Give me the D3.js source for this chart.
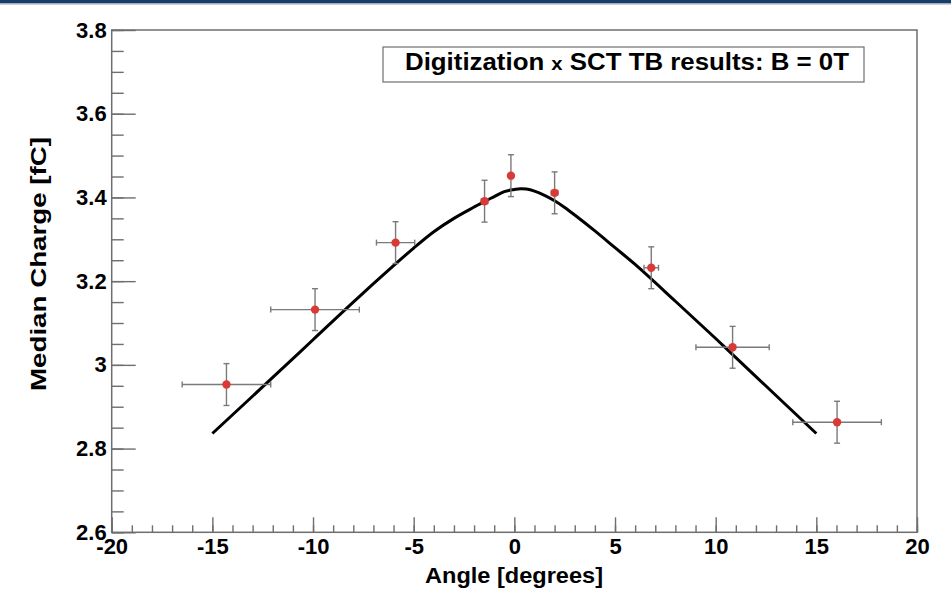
<!DOCTYPE html>
<html><head><meta charset="utf-8">
<script src="https://cdn.jsdelivr.net/npm/d3@7"></script>
<style>body{margin:0;background:#fff;} svg{display:block;font-family:"Liberation Sans",Arial,sans-serif;}</style>
</head><body>
<svg id="c" width="951" height="589"></svg>
<script>
// Data points
const angles = [-14.3, -9.9, -5.9, -1.48, -0.17, 2.0, 6.8, 10.84, 16.03];
const charges = [2.953, 3.132, 3.292, 3.391, 3.452, 3.411, 3.232, 3.042, 2.863];
const angleErr = [2.2, 2.2, 0.95, 0.16, 0.05, 0.16, 0.36, 1.82, 2.2];
const chargeErr = [0.05, 0.05, 0.05, 0.05, 0.05, 0.05, 0.05, 0.05, 0.05];
// Fit curve
const fitX = [-15, -12, -10, -8, -6, -5, -4, -3, -2, -1.5, -1, -0.5, 0, 0.3, 0.6, 1, 1.5, 2, 2.5, 3, 4, 5, 6, 8, 10, 12, 15];
const fitY = [2.836, 2.970, 3.060, 3.150, 3.237, 3.279, 3.318, 3.350, 3.377, 3.390, 3.402, 3.414, 3.419, 3.421, 3.420, 3.415, 3.405, 3.392, 3.376, 3.358, 3.320, 3.280, 3.240, 3.152, 3.063, 2.972, 2.836];
// Ticks
const xMajor = [-20, -15, -10, -5, 0, 5, 10, 15, 20];
const yMajor = [2.6, 2.8, 3.0, 3.2, 3.4, 3.6, 3.8];
const yLabels = ["2.6", "2.8", "3", "3.2", "3.4", "3.6", "3.8"];
const xMinor = d3.range(-20, 20.01, 1);
const yMinor = d3.range(2.6, 3.801, 0.05);
const titleText = ["Digitization ", "x", " SCT TB results: B = 0T"];

const svg = d3.select("#c");
const L = 111.7, R = 917, T = 30, B = 532.3;
const x = d3.scaleLinear().domain([-20, 20]).range([L, R]);
const y = d3.scaleLinear().domain([2.6, 3.8]).range([B, T]);
const frameCol = "#6e6e6e";

// top banner
svg.append("rect").attr("x", 0).attr("y", 0).attr("width", 951).attr("height", 3.5).attr("fill", "#173d6b");
svg.append("rect").attr("x", 0).attr("y", 3.5).attr("width", 951).attr("height", 1.2).attr("fill", "#b8bcc2");

// frame
svg.append("rect").attr("x", L).attr("y", T).attr("width", R - L).attr("height", B - T)
  .attr("fill", "none").attr("stroke", frameCol).attr("stroke-width", 1.5);

const gxMin = svg.append("g").attr("transform", `translate(0,${B})`)
  .call(d3.axisTop(x).tickValues(xMinor).tickSize(7).tickFormat(""));
const gxMaj = svg.append("g").attr("transform", `translate(0,${B})`)
  .call(d3.axisTop(x).tickValues(xMajor).tickSize(15).tickFormat(""));
const gxLab = svg.append("g").attr("transform", `translate(0,${B})`)
  .call(d3.axisBottom(x).tickValues(xMajor).tickSize(0).tickPadding(6).tickFormat(d => String(d)));
const gyMin = svg.append("g").attr("transform", `translate(${L},0)`)
  .call(d3.axisRight(y).tickValues(yMinor).tickSize(12).tickFormat(""));
const gyMaj = svg.append("g").attr("transform", `translate(${L},0)`)
  .call(d3.axisRight(y).tickValues(yMajor).tickSize(24).tickFormat(""));
const gyLab = svg.append("g").attr("transform", `translate(${L},0)`)
  .call(d3.axisLeft(y).tickValues(yMajor).tickSize(0).tickPadding(5).tickFormat((d, i) => yLabels[i]));
[gxMin, gxMaj, gxLab, gyMin, gyMaj, gyLab].forEach(g => {
  g.select(".domain").remove();
  g.selectAll("line").attr("stroke", frameCol).attr("stroke-width", 1.4);
  g.selectAll("text").attr("fill", "#000").attr("font-size", 22).attr("font-weight", "bold")
    .attr("font-family", "'Liberation Sans', Arial, sans-serif");
});
gxLab.selectAll("text").attr("dy", "0.72em");

// axis titles
svg.append("text").attr("x", 514).attr("y", 583).attr("text-anchor", "middle")
  .attr("font-size", 22).attr("font-weight", "bold")
  .attr("textLength", 178).attr("lengthAdjust", "spacingAndGlyphs").text("Angle [degrees]");
svg.append("text").attr("transform", `translate(46,264) rotate(-90)`).attr("text-anchor", "middle")
  .attr("font-size", 22).attr("font-weight", "bold")
  .attr("textLength", 254).attr("lengthAdjust", "spacingAndGlyphs").text("Median Charge [fC]");

// title box
svg.append("rect").attr("x", 383).attr("y", 47).attr("width", 481).attr("height", 35)
  .attr("fill", "#fff").attr("stroke", "#6e6e6e").attr("stroke-width", 1.2);
const tt = svg.append("text").attr("x", 405).attr("y", 70).attr("text-anchor", "start")
  .attr("font-weight", "bold").attr("font-size", 23)
  .attr("textLength", 444).attr("lengthAdjust", "spacingAndGlyphs");
tt.append("tspan").text(titleText[0]);
tt.append("tspan").attr("font-size", 18).text(titleText[1]);
tt.append("tspan").text(titleText[2]);

// fit curve
const fit = fitX.map((d, i) => [d, fitY[i]]);
svg.append("path").datum(fit)
  .attr("d", d3.line().x(d => x(d[0])).y(d => y(d[1])).curve(d3.curveCatmullRom.alpha(0.5)))
  .attr("fill", "none").attr("stroke", "#000").attr("stroke-width", 3);

// error bars
const pts = angles.map((a, i) => ({a, c: charges[i], ea: angleErr[i], ec: chargeErr[i]}));
const eb = svg.append("g").attr("stroke", "#7a7a7a").attr("stroke-width", 1.4);
pts.forEach(p => {
  const cx = x(p.a), cy = y(p.c);
  const x0 = x(p.a - p.ea), x1 = x(p.a + p.ea), y0 = y(p.c - p.ec), y1 = y(p.c + p.ec);
  eb.append("line").attr("x1", x0).attr("x2", x1).attr("y1", cy).attr("y2", cy);
  eb.append("line").attr("x1", cx).attr("x2", cx).attr("y1", y0).attr("y2", y1);
  eb.append("line").attr("x1", x0).attr("x2", x0).attr("y1", cy - 3).attr("y2", cy + 3);
  eb.append("line").attr("x1", x1).attr("x2", x1).attr("y1", cy - 3).attr("y2", cy + 3);
  eb.append("line").attr("x1", cx - 3).attr("x2", cx + 3).attr("y1", y0).attr("y2", y0);
  eb.append("line").attr("x1", cx - 3).attr("x2", cx + 3).attr("y1", y1).attr("y2", y1);
});
svg.append("g").selectAll("circle").data(pts).join("circle")
  .attr("cx", d => x(d.a)).attr("cy", d => y(d.c)).attr("r", 4.2).attr("fill", "#d93a36");
</script>
</body></html>
